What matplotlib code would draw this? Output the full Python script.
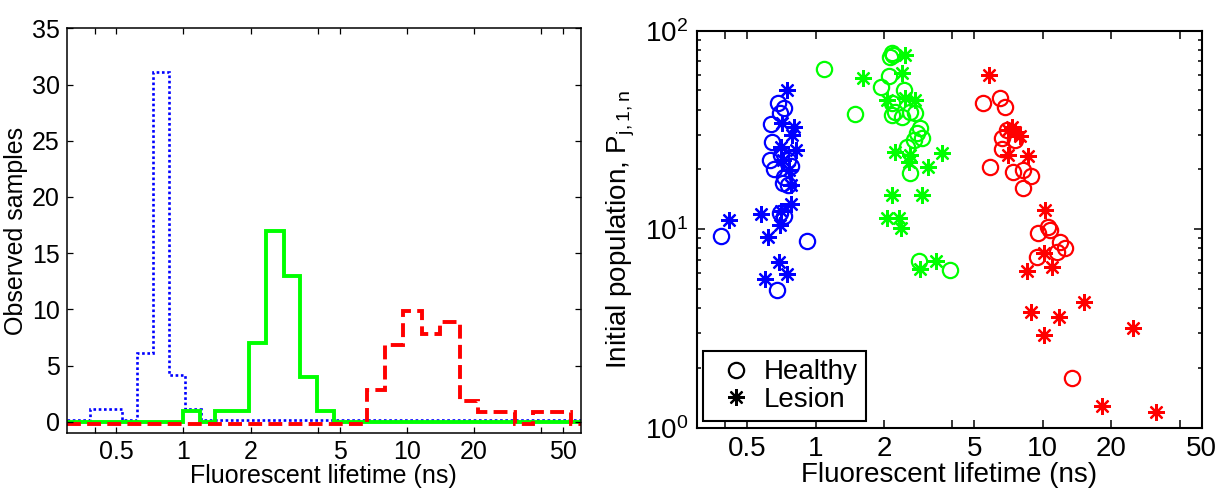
import matplotlib
matplotlib.use("Agg")
import matplotlib.pyplot as plt
import matplotlib.transforms as mtransforms
from matplotlib.lines import Line2D
from matplotlib.ticker import FixedLocator, FixedFormatter, LogLocator, LogFormatterMathtext, NullFormatter, NullLocator

plt.rcParams['font.family'] = ['Liberation Sans', 'DejaVu Sans']
plt.rcParams['mathtext.fontset'] = 'custom'
plt.rcParams['mathtext.rm'] = 'Liberation Sans'
plt.rcParams['mathtext.it'] = 'Liberation Sans:italic'
plt.rcParams['lines.scale_dashes'] = False

# ---- Histogram of fitted lifetimes (left panel) ----
blue_edges = [0.380, 0.449, 0.530, 0.622, 0.727, 0.863, 1.018, 1.200]
blue_counts = [1, 1, 0, 6, 31, 4, 1]

green_edges = [1.00, 1.18, 1.39, 1.65, 1.97, 2.35, 2.81, 3.32, 3.94, 4.70]
green_counts = [1, 0, 1, 1, 7, 17, 13, 4, 1]

red_edges = [6.63, 8.00, 9.60, 11.7, 14.1, 17.2, 20.8, 25.0, 30.4, 36.8, 44.5, 54.0]
red_counts = [3, 7, 10, 8, 9, 2, 1, 1, 0, 1, 1]

hist_xlim = (0.3, 60)
hist_ylim = (-1, 35)
hist_yticks = [0, 5, 10, 15, 20, 25, 30, 35]

lifetime_ticks = [0.4, 0.5, 1, 2, 4, 5, 10, 20, 40, 50]
lifetime_labels = ['', '0.5', '1', '2', '', '5', '10', '20', '', '50']

# ---- Initial population vs lifetime (right panel) ----
blue_healthy_tau = [0.683, 0.726, 0.697, 0.639, 0.645, 0.628, 0.656, 0.702, 0.756, 0.782,
                    0.726, 0.721, 0.759, 0.697, 0.726, 0.383, 0.919, 0.674]
blue_healthy_pop = [43.4, 40.6, 38.4, 33.8, 27.6, 22.3, 20.0, 23.6, 22.3, 20.8,
                    18.3, 17.0, 16.7, 12.1, 11.6, 9.25, 8.75, 4.94]
blue_lesion_tau = [0.746, 0.714, 0.803, 0.790, 0.823, 0.702, 0.721, 0.763, 0.777, 0.782,
                   0.702, 0.577, 0.416, 0.697, 0.617, 0.690, 0.746, 0.597]
blue_lesion_pop = [50.3, 34.2, 32.6, 29.8, 25.1, 26.0, 22.3, 19.9, 16.7, 13.4,
                   12.3, 12.0, 11.1, 10.5, 9.1, 6.86, 5.95, 5.6]

green_healthy_tau = [1.088, 2.172, 2.121, 2.20, 2.098, 1.95, 1.498, 2.443, 2.172, 2.245, 2.172,
                     2.40, 2.614, 2.75, 2.891, 2.797, 2.942, 2.70, 2.527, 2.595, 2.843, 3.916]
green_healthy_pop = [63.9, 76.9, 73.5, 75.4, 59.1, 52.2, 38.0, 50.3, 43.1, 39.1, 37.6,
                     36.9, 39.1, 38.4, 32.2, 30.4, 28.7, 28.2, 26.0, 19.1, 6.94, 6.23]
green_lesion_tau = [2.485, 1.62, 2.40, 2.065, 2.485, 2.75, 2.245, 2.614, 2.569, 3.601,
                    3.126, 2.172, 2.942, 2.065, 2.322, 2.386, 2.891, 3.40]
green_lesion_pop = [75.4, 57.6, 61.0, 44.8, 45.6, 44.8, 24.6, 23.6, 21.9, 24.1,
                    20.6, 14.9, 14.9, 11.35, 11.35, 10.1, 6.28, 6.94]

red_healthy_tau = [5.43, 6.494, 6.83, 6.95, 6.61, 7.55, 6.61, 5.87, 7.43, 8.22,
                   8.85, 8.22, 10.58, 9.57, 10.77, 11.91, 12.53, 11.52, 9.41, 13.4]
red_healthy_pop = [43.4, 45.6, 41.4, 31.6, 28.7, 28.1, 25.3, 20.6, 19.5, 19.9,
                   18.5, 16.1, 10.3, 9.53, 9.91, 8.65, 8.01, 7.70, 7.27, 1.79]
red_lesion_tau = [5.77, 7.31, 7.55, 7.91, 7.06, 7.06, 8.64, 10.24, 10.07, 8.51,
                  10.95, 8.85, 11.83, 10.13, 15.19, 24.85, 18.16, 31.45]
red_lesion_pop = [59.8, 32.8, 31.0, 29.5, 31.6, 23.6, 23.4, 12.5, 7.56, 6.18,
                  6.47, 3.84, 3.62, 2.93, 4.31, 3.17, 1.286, 1.20]

scatter_xlim = (0.3, 50)
scatter_ylim = (1, 100)

BLUE, GREEN, RED = (0, 0, 1), (0, 1, 0), (1, 0, 0)
asterisk = (8, 2, 0)

fig = plt.figure(figsize=(12.19, 4.90), dpi=100)

# ================= left panel =================
ax1 = fig.add_axes([0.0547, 0.1163, 0.4217, 0.8259])
ax1.set_xscale('log')


def padded(edges, counts):
    """Extend a histogram with empty bins out to the axis limits."""
    return [0] + list(counts) + [0], [hist_xlim[0]] + list(edges) + [hist_xlim[1]]


def shifted(ax, dy_px):
    return ax.transData + mtransforms.ScaledTranslation(0, dy_px / 100.0, fig.dpi_scale_trans)


v, e = padded(blue_edges, blue_counts)
ax1.stairs(v, e, baseline=None, color=BLUE, lw=1.9, linestyle=(0, (1.9, 1.9)),
           transform=shifted(ax1, 1.7))
v, e = padded(green_edges, green_counts)
ax1.stairs(v, e, baseline=None, color=GREEN, lw=2.8, linestyle='-')
v, e = padded(red_edges, red_counts)
ax1.stairs(v, e, baseline=None, color=RED, lw=2.8, linestyle=(0, (10, 4.5)),
           transform=shifted(ax1, -1.8))

ax1.set_xlim(*hist_xlim)
ax1.set_ylim(*hist_ylim)
ax1.xaxis.set_major_locator(FixedLocator(lifetime_ticks))
ax1.xaxis.set_major_formatter(FixedFormatter(lifetime_labels))
ax1.xaxis.set_minor_locator(NullLocator())
ax1.set_yticks(hist_yticks)
ax1.tick_params(which='both', direction='in', top=True, right=True, length=4.5, width=0.9,
                labelsize=18, pad=5)
for s in ax1.spines.values():
    s.set_linewidth(1.1)
ax1.set_xlabel('Fluorescent lifetime (ns)', fontsize=18, labelpad=0)
ax1.set_ylabel('Observed samples', fontsize=18, labelpad=3)

# ================= right panel =================
ax2 = fig.add_axes([0.5715, 0.1271, 0.4143, 0.8102])
ax2.set_xscale('log')
ax2.set_yscale('log')

circle_kw = dict(linestyle='none', marker='o', markersize=11, markerfacecolor='none',
                 markeredgewidth=1.6)
star_kw = dict(linestyle='none', marker=asterisk, markersize=12, markeredgewidth=1.6)

ax2.plot(blue_healthy_tau, blue_healthy_pop, color=BLUE, **circle_kw)
ax2.plot(blue_lesion_tau, blue_lesion_pop, color=BLUE, **star_kw)
ax2.plot(green_healthy_tau, green_healthy_pop, color=GREEN, **circle_kw)
ax2.plot(green_lesion_tau, green_lesion_pop, color=GREEN, **star_kw)
ax2.plot(red_healthy_tau, red_healthy_pop, color=RED, **circle_kw)
ax2.plot(red_lesion_tau, red_lesion_pop, color=RED, **star_kw)

ax2.set_xlim(*scatter_xlim)
ax2.set_ylim(*scatter_ylim)
ax2.xaxis.set_major_locator(FixedLocator(lifetime_ticks))
ax2.xaxis.set_major_formatter(FixedFormatter(lifetime_labels))
ax2.xaxis.set_minor_locator(NullLocator())
ax2.yaxis.set_major_locator(LogLocator(base=10))
ax2.yaxis.set_major_formatter(LogFormatterMathtext())
ax2.yaxis.set_minor_locator(LogLocator(base=10, subs=range(2, 10)))
ax2.yaxis.set_minor_formatter(NullFormatter())
ax2.tick_params(which='major', direction='in', top=True, right=True, length=5.5, width=1.1,
                labelsize=20, pad=6)
ax2.tick_params(which='minor', direction='in', top=True, right=True, length=2.8, width=1.1)
for s in ax2.spines.values():
    s.set_linewidth(1.5)
ax2.set_xlabel('Fluorescent lifetime (ns)', fontsize=20, labelpad=0)
ax2.set_ylabel(r'Initial population, $\mathregular{P_{j,1,n}}$', fontsize=20, labelpad=6)

legend_handles = [
    Line2D([], [], color='black', **circle_kw),
    Line2D([], [], color='black', **star_kw),
]
leg = ax2.legend(legend_handles, ['Healthy', 'Lesion'], loc='lower left',
                 bbox_to_anchor=(0.0125, 0.017), borderaxespad=0, fontsize=20,
                 fancybox=False, framealpha=1, edgecolor='black', handlelength=1.8,
                 handletextpad=0.1, borderpad=0.3, labelspacing=0.05)
leg.get_frame().set_linewidth(1.5)

fig.savefig('out.png', dpi=100)
